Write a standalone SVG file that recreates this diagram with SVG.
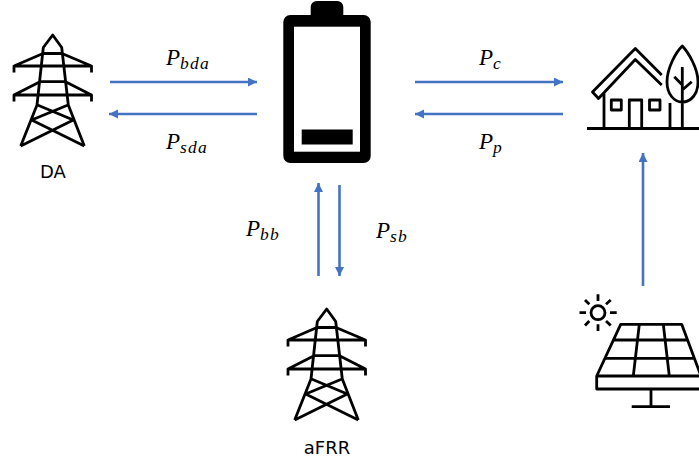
<svg xmlns="http://www.w3.org/2000/svg" width="699" height="465" viewBox="0 0 699 465">
<style>
.ic{fill:none;stroke:#000;stroke-width:2.8;stroke-linejoin:round;stroke-linecap:butt}
.cn{fill:none;stroke:#4472C4;stroke-width:2.6;marker-end:url(#ah)}
.lb{font-family:"DejaVu Sans","Liberation Sans",sans-serif;font-size:18px;fill:#000;text-anchor:middle}
.m{font-family:"Liberation Serif",serif;font-style:italic;font-size:23px;fill:#000}
.s{font-size:17.500px;letter-spacing:1.200px}
</style>
<defs>
<marker id="ah" markerUnits="userSpaceOnUse" markerWidth="10" markerHeight="10" refX="9" refY="4.500" orient="auto"><path d="M0 0L9 4.500L0 9Z" fill="#4472C4"/></marker>
<g id="tw">
<path class="ic" d="M20.700 146L37 105L43.300 47.500L52.700 35L61.700 47.500L68.300 105L84.300 146M43.300 53.500H61.700M40 81.700H65.500M43 53.500L14 66V72.500M62 53.500L91.500 66V72.500M14 66H91.500M40 81.700L14 95V101.500M65.500 81.700L91.500 95V101.500M14 95H91.500M37.500 105L73.300 120L20.700 146M68 105L31.700 120L84.300 146"/>
</g>
</defs>
<rect width="699" height="465" fill="#fff"/>
<g id="connectors">
<path class="cn" d="M110 82H257"/>
<path class="cn" d="M257 114H109"/>
<path class="cn" d="M415 82H563"/>
<path class="cn" d="M563 114H415"/>
<path class="cn" d="M318.500 276V183"/>
<path class="cn" d="M339.500 185V276"/>
<path class="cn" d="M643 286V153"/>
</g>
<g id="label-bda"><text class="m" x="166" y="65">P<tspan class="s" dy="4">bda</tspan></text></g>
<g id="label-sda"><text class="m" x="166" y="149">P<tspan class="s" dy="4">sda</tspan></text></g>
<g id="label-c"><text class="m" x="479" y="65">P<tspan class="s" dy="4">c</tspan></text></g>
<g id="label-p"><text class="m" x="479" y="149">P<tspan class="s" dy="4">p</tspan></text></g>
<g id="label-bb"><text class="m" x="246" y="236">P<tspan class="s" dy="4">bb</tspan></text></g>
<g id="label-sb"><text class="m" x="376" y="238">P<tspan class="s" dy="4">sb</tspan></text></g>
<g id="da"><use href="#tw"/><text class="lb" x="53" y="178">DA</text></g>
<g id="afrr"><use href="#tw" x="274" y="274"/><text class="lb" x="327" y="454">aFRR</text></g>
<g id="battery">
<rect x="310.700" y="1" width="32.600" height="20" rx="6" fill="#000"/>
<rect x="283.300" y="15" width="87.400" height="148" rx="7" fill="#000"/>
<rect x="294" y="26.700" width="66" height="125" fill="#fff"/>
<rect x="301.700" y="129.500" width="51" height="15" fill="#000"/>
</g>
<g id="house">
<path class="ic" d="M661.700 75L635.300 48.500L592.500 92L598.500 98.500L635.300 59.500L661.700 85M604 92V128.500M670 103V128.500M587 128.500H699M629.300 128.500V100H641.700V128.500"/>
<rect class="ic" x="611.300" y="100" width="10" height="10"/>
<rect class="ic" x="649.500" y="100" width="10.500" height="10"/>
<path class="ic" d="M682.300 46C676 52 667 68 667 82C667 94 674 102 682.300 102C691 102 698 94 698 82C698 68 688 52 682.300 46ZM682.300 67V128.500M674.300 76.700L682.300 85M691.700 81.700L682.300 90"/>
</g>
<g id="solar">
<circle class="ic" cx="598" cy="312.700" r="7"/>
<path class="ic" d="M598 294.300V301M598 324.300V331M579.500 312.700H586M610 312.700H616.700M585 300L589.300 304.300M610.700 300L606 304.300M585 325.500L589.300 321M610.700 325.500L606 321"/>
<path class="ic" d="M620.700 324.300H681.700L701 376H596.700ZM613.400 340H687.600M604.900 358.300H694.500M639.300 324.300L633.300 376M663.300 324.300L669.300 376M596.700 376V389H701M651 389V406.700M631.700 406.700H670"/>
</g>
</svg>
